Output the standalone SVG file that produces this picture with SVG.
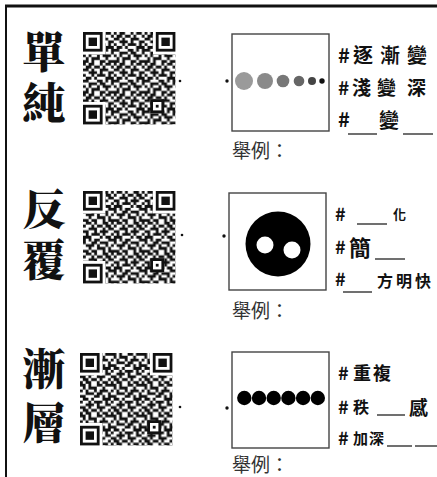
<svg xmlns="http://www.w3.org/2000/svg" xmlns:xlink="http://www.w3.org/1999/xlink" width="437" height="477" viewBox="0 0 437 477">
<style>
.big{font-family:"Noto Serif CJK TC","Noto Sans CJK TC",serif;font-weight:900;font-size:43px;fill:#111;writing-mode:vertical-rl}
.lab{font-family:"Noto Sans CJK TC",sans-serif;font-weight:700;fill:#111;dominant-baseline:central}
.ex{font-family:"Noto Sans CJK TC",sans-serif;font-size:19px;fill:#333;dominant-baseline:central}
.box{fill:#fff;stroke:#444;stroke-width:1.4}
.ul{stroke:#222;stroke-width:1.3}
.frame{stroke:#111;fill:none}
</style>
<defs>
<pattern id="qrn" width="11" height="11" patternUnits="userSpaceOnUse">
<path fill="#111" d="M0 0h1v1h-1z M2 0h2v1h-2z M6 0h1v1h-1z M8 0h2v1h-2z M1 1h2v1h-2z M4 1h2v1h-2z M7 1h1v1h-1z M10 1h1v1h-1z M0 2h2v1h-2z M3 2h1v1h-1z M6 2h3v1h-3z M2 3h3v1h-3z M6 3h1v1h-1z M9 3h2v1h-2z M0 4h1v1h-1z M3 4h1v1h-1z M5 4h3v1h-3z M9 4h1v1h-1z M1 5h2v1h-2z M4 5h1v1h-1z M8 5h3v1h-3z M0 6h2v1h-2z M5 6h2v1h-2z M8 6h1v1h-1z M10 6h1v1h-1z M2 7h3v1h-3z M6 7h2v1h-2z M10 7h1v1h-1z M0 8h1v1h-1z M2 8h1v1h-1z M5 8h1v1h-1z M7 8h3v1h-3z M1 9h1v1h-1z M3 9h3v1h-3z M8 9h1v1h-1z M0 10h2v1h-2z M3 10h1v1h-1z M6 10h2v1h-2z M9 10h2v1h-2z"/>
</pattern>
<g id="fp"><rect x="-1" y="-1" width="9" height="9" fill="#fff"/><rect width="7" height="7" fill="#111"/><rect x="1" y="1" width="5" height="5" fill="#fff"/><rect x="2" y="2" width="3" height="3" fill="#111"/></g>
<g id="al"><rect width="5" height="5" fill="#111"/><rect x="1" y="1" width="3" height="3" fill="#fff"/><rect x="2" y="2" width="1" height="1" fill="#111"/></g>
</defs>
<rect width="437" height="477" fill="#fff"/>
<g id="frame">
<line class="frame" x1="5" y1="6" x2="437" y2="6" stroke-width="3"/>
<line class="frame" x1="6" y1="5" x2="6" y2="477" stroke-width="2"/>
</g>

<g id="row1">
<text class="big" x="44" y="30" letter-spacing="8">單純</text>
<g id="qr1" transform="translate(83 32) scale(2.8)">
<rect width="33" height="33" fill="url(#qrn)"/>
<use href="#fp"/><use href="#fp" x="26"/><use href="#fp" y="26"/><use href="#al" x="24" y="24"/>
</g>
<circle cx="180" cy="81" r="1.3" fill="#111"/>
<circle cx="227" cy="81" r="1.7" fill="#111"/>
<rect class="box" x="232" y="34" width="97" height="97"/>
<circle cx="244" cy="81" r="9" fill="#9a9a9a"/>
<circle cx="265" cy="81" r="8" fill="#8a8a8a"/>
<circle cx="283" cy="81" r="6.3" fill="#777"/>
<circle cx="299" cy="81" r="5.3" fill="#666"/>
<circle cx="312" cy="81" r="4" fill="#444"/>
<circle cx="322" cy="81" r="2.7" fill="#111"/>
<text class="lab" font-size="20" x="338 353 380 407" y="54">#逐漸變</text>
<text class="lab" font-size="19" x="338 352 377 407" y="86">#淺變深</text>
<text class="lab" font-size="20" x="338" y="118">#</text>
<text class="lab" font-size="20" x="379" y="119">變</text>
<line class="ul" x1="348" y1="134" x2="377" y2="134"/>
<line class="ul" x1="403" y1="134" x2="433" y2="134"/>
<text class="ex" x="232" y="149">舉例：</text>
</g>

<g id="row2">
<text class="big" x="44" y="187" letter-spacing="8">反覆</text>
<g id="qr2" transform="translate(83 191) scale(2.8)">
<g transform="matrix(-1 0 0 1 33 0)"><rect width="33" height="33" fill="url(#qrn)"/></g>
<use href="#fp"/><use href="#fp" x="26"/><use href="#fp" y="26"/><use href="#al" x="24" y="24"/>
</g>
<circle cx="182" cy="235" r="1.3" fill="#111"/>
<circle cx="224" cy="236" r="1.7" fill="#111"/>
<rect class="box" x="229" y="193" width="97" height="97"/>
<circle cx="278" cy="244" r="32.5" fill="#000"/>
<circle cx="265" cy="245" r="8.5" fill="#fff"/>
<circle cx="292" cy="250" r="8.5" fill="#fff"/>
<text class="lab" font-size="18" x="335" y="213">#</text>
<line class="ul" x1="357" y1="224" x2="387" y2="224"/>
<text class="lab" font-size="13" x="393" y="213">化</text>
<text class="lab" font-size="18" x="335" y="246">#</text>
<text class="lab" font-size="22" x="349" y="246">簡</text>
<line class="ul" x1="375" y1="259" x2="405" y2="259"/>
<text class="lab" font-size="18" x="335" y="278">#</text>
<line class="ul" x1="343" y1="292" x2="372" y2="292"/>
<text class="lab" font-size="16" x="377 396 415" y="280">方明快</text>
<text class="ex" x="232" y="309">舉例：</text>
</g>

<g id="row3">
<text class="big" x="44" y="347" letter-spacing="11">漸層</text>
<g id="qr3" transform="translate(80 353) scale(2.8)">
<g transform="matrix(1 0 0 -1 0 33)"><rect width="33" height="33" fill="url(#qrn)"/></g>
<use href="#fp"/><use href="#fp" x="26"/><use href="#fp" y="26"/><use href="#al" x="24" y="24"/>
</g>
<circle cx="180" cy="407" r="1.3" fill="#111"/>
<circle cx="227" cy="408" r="1.7" fill="#111"/>
<rect class="box" x="232" y="352" width="97" height="96"/>
<circle cx="244.3" cy="398" r="7.2" fill="#000"/>
<circle cx="259" cy="398" r="7.2" fill="#000"/>
<circle cx="273.7" cy="398" r="7.2" fill="#000"/>
<circle cx="288.4" cy="398" r="7.2" fill="#000"/>
<circle cx="303.1" cy="398" r="7.2" fill="#000"/>
<circle cx="317.8" cy="398" r="7.2" fill="#000"/>
<text class="lab" font-size="18" x="338 353 373" y="372">#重複</text>
<text class="lab" font-size="18" x="338" y="406">#</text>
<text class="lab" font-size="16" x="353" y="406">秩</text>
<line class="ul" x1="377" y1="415" x2="405" y2="415"/>
<text class="lab" font-size="19" x="409" y="406">感</text>
<text class="lab" font-size="18" x="338" y="437">#</text>
<text class="lab" font-size="15" x="353 369" y="437">加深</text>
<line class="ul" x1="387" y1="446" x2="412" y2="446"/>
<line class="ul" x1="415" y1="446" x2="437" y2="446"/>
<text class="ex" x="232" y="463">舉例：</text>
</g>
</svg>
